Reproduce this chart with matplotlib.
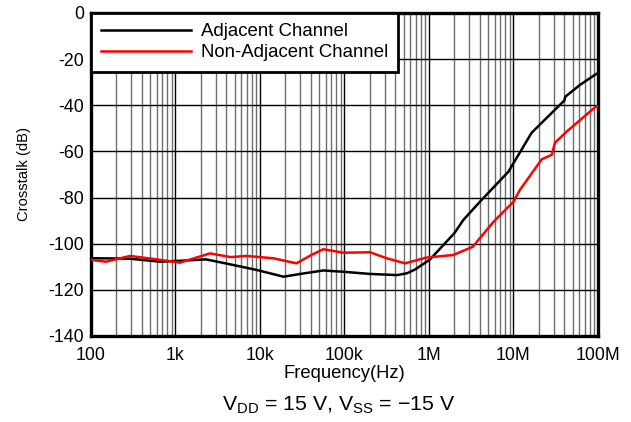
import numpy as np
import matplotlib
matplotlib.use('Agg')
import matplotlib.pyplot as plt
from matplotlib.ticker import LogLocator, NullFormatter

plt.rcParams['font.family'] = ['Liberation Sans', 'DejaVu Sans']
plt.rcParams['mathtext.fontset'] = 'custom'
plt.rcParams['mathtext.rm'] = 'Liberation Sans'

# Adjacent channel (black)
adj_freq = [100, 200, 290, 660, 1130, 2300, 4800, 9200, 19e3, 30e3, 56e3, 100e3,
            200e3, 420e3, 550e3, 690e3, 1.03e6, 2e6, 2.55e6, 4.2e6, 8.7e6,
            16.4e6, 40e6, 41e6, 61e6, 92e6, 100e6]
adj_db = [-106.3, -106.4, -106.5, -107.8, -107.4, -106.8, -109.2, -111.4, -114.3,
          -113.1, -111.6, -112.2, -113.1, -113.6, -112.8, -111.1, -106.8, -95.4,
          -89.7, -81.0, -68.8, -51.9, -37.9, -36.3, -31.2, -26.8, -26.0]

# Non-adjacent channel (red)
nonadj_freq = [100, 150, 290, 600, 1130, 2560, 4500, 6900, 14.3e3, 27e3, 40e3,
               56e3, 97e3, 200e3, 316e3, 520e3, 935e3, 1.94e6, 3.3e6, 5.8e6,
               10e6, 11.9e6, 21.6e6, 28.3e6, 31e6, 42.6e6, 92e6, 100e6]
nonadj_db = [-107.0, -107.8, -105.3, -106.8, -108.2, -104.2, -105.8, -105.3, -106.3,
             -108.5, -105.0, -102.4, -103.9, -103.7, -106.3, -108.5, -106.0, -104.9,
             -101.3, -90.5, -81.8, -76.7, -63.4, -61.5, -56.2, -51.4, -40.9, -40.3]

yticks = [0, -20, -40, -60, -80, -100, -120, -140]
xticks = [1e2, 1e3, 1e4, 1e5, 1e6, 1e7, 1e8]
xticklabels = ['100', '1k', '10k', '100k', '1M', '10M', '100M']

fig = plt.figure(figsize=(6.31, 4.22), dpi=100)
ax = fig.add_axes([0.1442, 0.2038, 0.8035, 0.7654])

ax.semilogx(adj_freq, adj_db, color='black', lw=1.8, label='Adjacent Channel', zorder=3)
ax.semilogx(nonadj_freq, nonadj_db, color='#ff0000', lw=1.8, label='Non-Adjacent Channel', zorder=3)

ax.set_xlim(1e2, 1e8)
ax.set_ylim(-140, 0)
ax.set_xticks(xticks)
ax.set_xticklabels(xticklabels)
ax.xaxis.set_minor_locator(LogLocator(base=10, subs=np.arange(2, 10)))
ax.xaxis.set_minor_formatter(NullFormatter())
ax.set_yticks(yticks)
ax.set_yticklabels([str(v) for v in yticks])

ax.grid(True, which='major', color='black', lw=1.0)
ax.grid(True, which='minor', axis='x', color='#6e6e6e', lw=1.0)
ax.tick_params(which='both', length=0, labelsize=12.8)
ax.tick_params(axis='x', pad=8)
ax.tick_params(axis='y', pad=5)

for s in ax.spines.values():
    s.set_linewidth(2.4)
    s.set_color('black')

ax.set_xlabel('Frequency(Hz)', fontsize=13.2, labelpad=1)
ax.set_ylabel('Crosstalk (dB)', fontsize=10.6, labelpad=12.5)

leg = ax.legend(loc='upper left', bbox_to_anchor=(0.0, 1.0), borderaxespad=0,
                fontsize=13.4, handlelength=4.8, handletextpad=0.55,
                labelspacing=0.22, borderpad=0.55, fancybox=False,
                framealpha=1, edgecolor='black')
leg.get_frame().set_linewidth(2.0)
leg.set_zorder(5)

fig.text(0.536, 0.028, r'V$_{\rm DD}$ = 15 V, V$_{\rm SS}$ = $-$15 V',
         ha='center', va='baseline', fontsize=15.3)

plt.savefig('out.png', dpi=100)
